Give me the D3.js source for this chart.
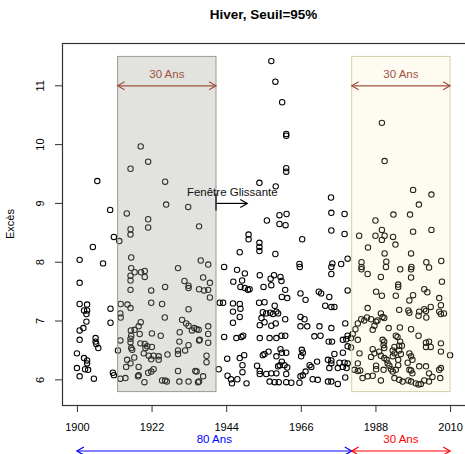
<!DOCTYPE html>
<html>
<head>
<meta charset="utf-8">
<script src="https://cdn.jsdelivr.net/npm/d3@7"></script>
<style>
  body { margin: 0; background: #fff; }
  text { font-family: "Liberation Sans", Arial, sans-serif; }
</style>
</head>
<body>
<svg id="chart" width="465" height="454"></svg>
<script>
// winter exceedances over the 95% threshold (year, value)
var years = [
  1906.0,1918.8,1921.0,1915.8,1926.0,1926.3,1932.8,1909.8,1914.7,1921.0,1921.0,1915.8,1915.8,1936.0,1910.9,1912.5,1904.7,1916.0,1900.8,1907.7,
  1936.5,1938.7,1957.3,1958.5,1960.5,1961.7,1961.7,1961.7,1961.7,1953.8,1958.6,1974.9,1975.0,1978.9,1975.0,1978.9,1961.8,1959.7,1956.0,1959.7,
  1961.5,1966.4,1950.6,1950.6,1953.8,1953.8,1953.8,1948.0,1958.5,1965.6,1979.8,1977.9,1975.3,1989.9,1990.7,1999.1,2004.5,2000.8,1993.3,1998.2,
  1988.0,1989.9,1989.9,1983.2,1988.0,1990.7,1993.2,1993.9,1999.1,2004.5,1985.8,1990.7,1998.5,1983.9,1991.2,2003.0,2007.4,1900.8,1900.8,1903.0,
  1902.1,1903.0,1902.8,1902.8,1901.9,1900.8,1909.9,1909.9,1900.8,1905.5,1905.5,1905.7,1906.3,1900.0,1902.1,1903.0,1903.0,1900.0,1900.8,1902.4,
  1903.3,1905.0,1910.6,1910.9,1912.9,1914.9,1915.8,1912.8,1912.9,1916.0,1917.0,1918.9,1920.0,1920.0,1915.8,1915.8,1929.8,1915.8,1921.9,1926.0,
  1931.7,1932.9,1932.9,1936.0,1921.9,1925.1,1925.9,1932.9,1931.0,1932.2,1932.9,1934.6,1935.9,1933.9,1918.8,1918.2,1917.0,1915.9,1916.0,1918.5,
  1922.1,1924.7,1930.3,1912.8,1915.8,1915.8,1916.0,1916.3,1918.7,1920.0,1920.2,1920.7,1922.1,1919.7,1921.2,1922.6,1924.1,1921.9,1924.1,1930.2,
  1932.9,1936.0,1926.7,1929.8,1929.8,1931.9,1912.1,1914.8,1915.8,1916.9,1914.5,1918.2,1918.0,1918.2,1922.6,1921.9,1921.0,1912.8,1914.3,1919.9,
  1925.1,1926.0,1926.5,1929.8,1930.2,1932.9,1934.9,1936.0,1937.2,1939.2,1937.5,1938.7,1939.2,1935.3,1936.2,1938.7,1938.7,1938.7,1938.2,1938.2,
  1935.3,1937.2,1935.7,1943.4,1947.2,1949.5,1946.1,1948.7,1948.2,1949.5,1950.4,1942.1,1943.1,1946.0,1948.0,1948.2,1946.0,1946.0,1948.0,1943.4,
  1947.0,1948.5,1949.0,1944.3,1948.0,1949.3,1941.8,1948.8,1948.8,1944.4,1945.4,1945.7,1947.3,1950.0,1953.9,1955.0,1957.1,1958.1,1957.3,1960.0,
  1960.3,1961.4,1960.4,1962.0,1953.7,1955.3,1958.3,1954.8,1955.8,1957.0,1957.8,1958.8,1959.3,1954.4,1953.9,1955.3,1958.6,1957.3,1961.4,1953.9,
  1956.8,1958.8,1960.3,1961.4,1954.8,1955.3,1956.5,1958.8,1960.0,1960.4,1961.7,1959.8,1959.3,1961.2,1962.0,1960.4,1953.1,1953.9,1953.9,1955.8,
  1957.3,1958.8,1956.8,1958.3,1959.5,1961.7,1961.7,1963.2,1965.7,1965.9,1967.4,1971.3,1972.0,1975.0,1975.0,1974.4,1973.2,1975.0,1965.9,1967.1,
  1965.9,1967.9,1971.5,1974.2,1970.0,1971.8,1966.3,1966.6,1966.1,1968.6,1969.1,1967.4,1966.6,1974.0,1974.4,1975.0,1965.9,1969.5,1971.0,1965.6,
  1974.0,1975.0,1970.8,1950.9,1979.8,1975.9,1975.0,1979.1,1975.2,1978.4,1979.4,1979.8,1979.8,1980.8,1975.9,1978.4,1975.0,1977.4,1978.9,1979.8,
  1978.4,1979.5,1976.9,1976.9,1979.1,1983.9,1983.9,1991.1,1995.3,1998.6,1998.5,2003.8,1985.7,1989.6,1998.5,2007.6,1994.7,1994.7,1988.2,1989.9,
  1994.0,1999.1,2002.4,2003.3,1998.0,2006.8,2007.3,2004.3,1985.7,1995.0,1997.7,1998.0,2000.9,2000.7,2002.4,2002.9,2003.0,2006.8,2008.2,2007.3,
  1982.8,1983.8,1984.7,1985.5,1986.7,1988.2,1989.6,1990.1,1990.6,1988.6,1987.7,1987.2,1982.1,1981.3,1980.8,1991.9,1995.2,1998.5,1990.1,1990.6,
  1990.4,1990.6,1994.0,1994.5,1995.3,1993.6,1995.0,1995.8,2000.7,2002.9,2003.8,2004.3,2002.9,2007.3,2007.3,1982.8,1983.3,1987.2,1987.7,1986.7,
  1989.1,1989.6,1990.6,1993.1,1993.6,1993.1,1995.0,1995.5,1998.0,1998.5,1998.9,2010.0,1982.8,1988.2,1988.2,1991.3,1991.6,1992.1,1992.6,1993.1,
  1994.7,1994.7,1997.5,1998.0,2000.9,2002.9,2006.8,2007.3,1981.8,1982.8,1983.5,1984.2,1985.7,1987.2,1990.4,1994.0,1998.5,1998.9,2003.8,1989.6,
  1993.6,1995.0,1996.0,1997.7,1998.5,1999.9,2000.7,2001.4,2002.4,2004.8,2003.8,2007.1
];
var exces = [
  9.38,9.97,9.71,9.59,9.37,8.98,8.94,8.89,8.83,8.73,8.59,8.56,8.47,8.61,8.43,8.36,8.26,8.08,8.04,7.98,
  8.03,7.96,11.42,11.07,10.72,10.18,10.15,9.60,9.54,9.35,9.29,9.10,8.84,8.82,8.54,8.48,8.82,8.80,8.71,8.65,
  8.63,8.39,8.47,8.39,8.33,8.26,8.19,8.17,8.14,7.97,8.06,7.97,7.98,10.37,9.72,9.23,9.15,8.98,8.81,8.81,
  8.71,8.55,8.38,8.45,8.45,8.45,8.43,8.30,8.52,8.55,8.25,8.15,8.15,8.00,8.01,8.00,8.02,7.65,7.29,7.28,
  7.18,7.18,7.12,6.99,6.88,6.84,7.21,6.97,6.68,6.71,6.65,6.61,6.54,6.45,6.37,6.33,6.28,6.20,6.06,6.18,
  6.17,6.02,6.12,6.08,7.29,7.28,7.22,7.13,7.06,7.90,7.83,7.83,7.85,7.75,7.77,7.69,7.90,7.53,7.52,7.58,
  7.68,7.60,7.56,7.54,7.31,7.29,7.06,7.20,7.02,6.96,6.92,6.88,6.85,6.84,6.98,6.91,6.85,6.84,6.75,6.78,
  6.79,6.75,6.81,6.67,6.70,6.64,6.54,6.51,6.62,6.61,6.54,6.57,6.56,6.45,6.41,6.41,6.40,6.35,6.34,6.65,
  6.59,6.67,6.43,6.50,6.44,6.50,6.50,6.34,6.28,6.38,6.22,6.22,6.06,6.08,6.18,6.14,6.12,6.02,6.03,5.96,
  5.99,5.99,5.97,6.15,5.97,5.97,6.15,5.97,7.74,7.65,7.52,7.53,7.40,6.86,6.68,6.91,6.78,6.63,6.41,6.30,
  6.14,6.06,5.96,7.92,7.87,7.81,7.67,7.69,7.58,7.56,7.53,7.31,7.31,7.30,7.29,7.21,7.16,6.97,7.07,6.73,
  6.71,6.73,6.75,6.36,6.37,6.42,6.18,6.25,6.13,6.07,6.01,5.94,6.01,5.94,7.78,7.58,7.72,7.78,7.61,7.75,
  7.68,7.53,7.41,7.39,7.31,7.32,7.26,7.15,7.13,7.14,7.12,7.16,7.13,7.05,6.93,6.98,6.96,6.92,7.03,6.71,
  6.71,6.71,6.75,6.75,6.42,6.44,6.48,6.40,6.52,6.46,6.46,6.25,6.23,6.25,6.21,6.31,6.24,6.15,6.10,6.10,
  6.11,6.11,5.97,5.96,5.96,6.10,5.96,5.95,7.92,7.47,7.36,7.50,7.47,7.92,7.80,7.41,7.26,7.24,7.07,7.03,
  6.91,6.91,6.91,6.65,6.74,6.75,6.51,6.46,6.40,6.25,6.22,6.14,6.08,6.34,6.20,6.28,6.06,6.01,6.00,5.95,
  5.97,5.97,6.31,7.54,7.52,7.24,6.88,6.96,6.65,6.68,6.69,6.75,6.57,6.55,6.44,6.46,6.33,6.29,6.29,6.28,
  6.22,6.20,6.20,5.93,6.04,7.92,7.88,7.92,7.88,7.92,7.88,7.91,7.80,7.75,7.74,7.67,7.62,7.58,7.50,7.43,
  7.43,7.44,7.54,7.49,7.35,7.39,7.27,7.24,7.22,7.19,7.18,7.14,7.16,7.09,7.20,7.17,7.06,7.16,7.13,7.12,
  6.96,7.03,7.01,7.06,7.03,6.99,7.13,7.07,7.05,7.01,6.92,6.85,6.86,6.78,6.71,6.88,6.89,6.86,6.68,6.65,
  6.59,6.54,6.75,6.73,6.65,6.56,6.58,6.58,6.75,6.63,6.65,6.56,6.56,6.62,6.48,6.68,6.45,6.52,6.45,6.39,
  6.48,6.41,6.37,6.50,6.45,6.40,6.50,6.44,6.45,6.40,6.34,6.42,6.28,6.24,6.18,6.34,6.28,6.24,6.18,6.14,
  6.34,6.25,6.29,6.17,6.23,6.23,6.17,6.20,6.17,6.15,6.16,6.03,6.06,6.07,6.17,6.17,6.16,6.11,6.11,5.99,
  6.03,6.00,5.97,5.99,5.97,5.94,5.92,5.93,5.99,6.05,5.97,6.03
];

var xTicks = [1900, 1922, 1944, 1966, 1988, 2010];
var yTicks = [6, 7, 8, 9, 10, 11];

// 30 year windows (start, end)
var fenetreDebut = [1912, 1981];
var fenetreFin = [1941, 2010];
var fenetreLabel = ["30 Ans", "30 Ans"];

// periods under the axis
var periodeDebut = [1900, 1981];
var periodeFin = [1981, 2010];
var periodeLabel = ["80 Ans", "30 Ans"];

var margin = { top: 43, right: 0, bottom: 49, left: 62 },
    width = 465 - margin.left - margin.right,
    height = 454 - margin.top - margin.bottom;

var x = d3.scaleLinear().domain([1895.6, 2014.4]).range([0, width]);
var y = d3.scaleLinear().domain([5.572, 11.728]).range([height, 0]);

var svg = d3.select("#chart")
  .append("g")
  .attr("transform", "translate(" + margin.left + "," + margin.top + ")");

// draws a line with open V heads at both ends (like R arrows(code=3))
function arrow(g, x1, x2, yy, color, both) {
  var L = 8, a = Math.PI / 6;
  g.append("line").attr("x1", x1).attr("x2", x2).attr("y1", yy).attr("y2", yy)
    .attr("stroke", color).attr("stroke-width", 1.2);
  var heads = both ? [[x1, 1], [x2, -1]] : [[x2, -1]];
  heads.forEach(function (h) {
    var p = "M" + (h[0] + h[1] * L * Math.cos(a)) + "," + (yy - L * Math.sin(a)) +
      "L" + h[0] + "," + yy +
      "L" + (h[0] + h[1] * L * Math.cos(a)) + "," + (yy + L * Math.sin(a));
    g.append("path").attr("d", p).attr("fill", "none")
      .attr("stroke", color).attr("stroke-width", 1.2);
  });
}

// points
svg.selectAll("circle.pt")
  .data(years.map(function (d, i) { return { an: d, v: exces[i] }; }))
  .enter()
  .append("circle")
  .attr("class", "pt")
  .attr("cx", function (d) { return x(d.an); })
  .attr("cy", function (d) { return y(d.v); })
  .attr("r", 2.7)
  .attr("fill", "none")
  .attr("stroke", "#000")
  .attr("stroke-width", 1.05);

// transparent windows over the points
var fills = ["rgb(160,158,150)", "rgb(250,230,170)"],
    fillOp = [0.3, 0.15],
    borders = ["#9a9a96", "#d8cfa4"];
fenetreDebut.forEach(function (d, i) {
  svg.append("rect")
    .attr("x", x(d))
    .attr("y", y(11.5))
    .attr("width", x(fenetreFin[i]) - x(d))
    .attr("height", y(5.8) - y(11.5))
    .attr("fill", fills[i])
    .attr("fill-opacity", fillOp[i])
    .attr("stroke", borders[i])
    .attr("stroke-width", 1);
  arrow(svg, x(d), x(fenetreFin[i]), y(11), "#a0523d", true);
  svg.append("text")
    .attr("x", (x(d) + x(fenetreFin[i])) / 2)
    .attr("y", y(11) - 8)
    .attr("text-anchor", "middle")
    .attr("fill", "#a0523d")
    .style("font-size", "11.5px")
    .text(fenetreLabel[i]);
});

// sliding window annotation
svg.append("line")
  .attr("x1", x(1941)).attr("x2", x(1941))
  .attr("y1", y(9) - 10).attr("y2", y(9) + 7)
  .attr("stroke", "#000").attr("stroke-width", 1.2);
arrow(svg, x(1941), x(1950.2), y(9), "#000", false);
svg.append("text")
  .attr("x", x(1945.8))
  .attr("y", y(9) - 7)
  .attr("text-anchor", "middle")
  .attr("fill", "#111")
  .style("font-size", "11.5px")
  .text("Fenêtre Glissante");

// box
svg.append("rect")
  .attr("x", 0.5).attr("y", 0.5)
  .attr("width", width + 2).attr("height", height)
  .attr("fill", "none").attr("stroke", "#333").attr("stroke-width", 1.2);

// axes
var xAxis = d3.axisBottom(x).tickValues(xTicks).tickSize(7).tickSizeOuter(0).tickPadding(11).tickFormat(d3.format("d"));
var gx = svg.append("g").attr("transform", "translate(0," + height + ")").call(xAxis);
gx.select(".domain").attr("d", "M" + x(1900) + ",0.5H" + x(2010)).attr("stroke", "#333");
gx.selectAll("line").attr("stroke", "#333");
gx.selectAll("text").style("font-size", "11px").attr("fill", "#000")
  .style("font-family", "'Liberation Sans', Arial, sans-serif");

var yAxis = d3.axisLeft(y).tickValues(yTicks).tickSize(7).tickSizeOuter(0).tickFormat(d3.format("d"));
var gy = svg.append("g").call(yAxis);
gy.select(".domain").attr("d", "M0.5," + y(6) + "V" + y(11)).attr("stroke", "#333");
gy.selectAll("line").attr("stroke", "#333");
gy.selectAll("text")
  .style("font-size", "11px").attr("fill", "#000")
  .style("font-family", "'Liberation Sans', Arial, sans-serif")
  .attr("x", 0).attr("dy", null)
  .attr("text-anchor", "middle")
  .attr("transform", function (d) { return "translate(-18," + y(d) + ") rotate(-90)"; })
  .attr("y", 0);
gy.selectAll(".tick").attr("transform", null);
gy.selectAll(".tick line").attr("transform", function (d) { return "translate(0," + y(d) + ")"; });

// y label
svg.append("text")
  .attr("transform", "translate(" + (-48) + "," + (height / 2) + ") rotate(-90)")
  .attr("text-anchor", "middle")
  .style("font-size", "11px")
  .text("Excès");

// title
svg.append("text")
  .attr("x", width / 2)
  .attr("y", -24)
  .attr("text-anchor", "middle")
  .style("font-size", "13.5px")
  .style("font-weight", "bold")
  .text("Hiver, Seuil=95%");

// periods below the axis
var pColors = ["#0000ff", "#ff0000"];
periodeDebut.forEach(function (d, i) {
  arrow(svg, x(d), x(periodeFin[i]), height + 46, pColors[i], true);
  svg.append("text")
    .attr("x", (x(d) + x(periodeFin[i])) / 2)
    .attr("y", height + 38)
    .attr("text-anchor", "middle")
    .attr("fill", pColors[i])
    .style("font-size", "11.5px")
    .text(periodeLabel[i]);
});
</script>
</body>
</html>
